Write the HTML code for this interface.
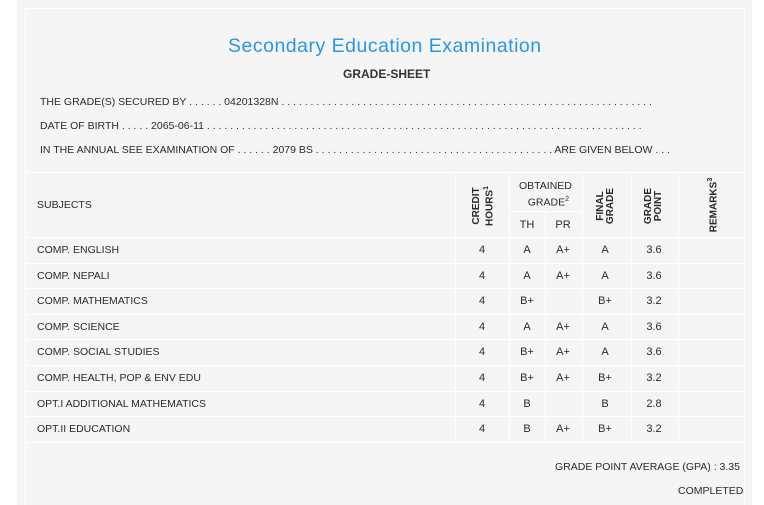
<!DOCTYPE html>
<html><head><meta charset="utf-8"><style>
*{margin:0;padding:0;box-sizing:border-box}
body{width:764px;height:505px;background:#fff;font-family:"Liberation Sans",sans-serif;color:#2a2a2a;position:relative;overflow:hidden}
#panel{position:absolute;left:17px;top:0;width:735px;height:505px;background:#f5f5f5}
#inner{position:absolute;left:25px;top:8px;width:720px;height:497px;border:1px solid #fff;border-bottom:none}
.t{position:absolute;white-space:nowrap;font-size:11px;transform-origin:0 0}
.c{position:absolute;text-align:center;font-size:11px;width:40px}
.hl{position:absolute;height:1px;background:#fff}
.vl{position:absolute;width:1px;background:#fff}
.rot{position:absolute;font-size:10px;font-weight:bold;line-height:10px;transform:rotate(-90deg);transform-origin:center;text-align:center;white-space:nowrap}
</style></head><body>
<div id="panel"></div><div id="inner"></div>
<div class="t" style="left:228px;top:35px;font-size:19.5px;color:#2a96e6;letter-spacing:0.5px">Secondary Education Examination</div>
<div class="t" style="left:343px;top:67px;font-size:12px;font-weight:bold;color:#333">GRADE-SHEET</div>
<div class="t" style="left:40px;top:96px;font-size:10.5px">THE GRADE(S) SECURED BY . . . . . . 04201328N . . . . . . . . . . . . . . . . . . . . . . . . . . . . . . . . . . . . . . . . . . . . . . . . . . . . . . . . . . . . . . . .</div>
<div class="t" style="left:40px;top:120px;font-size:10.5px">DATE OF BIRTH . . . . . 2065-06-11 . . . . . . . . . . . . . . . . . . . . . . . . . . . . . . . . . . . . . . . . . . . . . . . . . . . . . . . . . . . . . . . . . . . . . . . . . . .</div>
<div class="t" style="left:40px;top:144px;font-size:10.5px">IN THE ANNUAL SEE EXAMINATION OF . . . . . . 2079 BS . . . . . . . . . . . . . . . . . . . . . . . . . . . . . . . . . . . . . . . . . ARE GIVEN BELOW . . .</div>

<div class="hl" style="left:25px;top:172px;width:720px"></div>
<div class="hl" style="left:509px;top:211px;width:73px"></div>
<div class="hl" style="left:25px;top:237px;width:720px"></div>
<div class="hl" style="left:25px;top:263px;width:720px"></div>
<div class="hl" style="left:25px;top:288px;width:720px"></div>
<div class="hl" style="left:25px;top:314px;width:720px"></div>
<div class="hl" style="left:25px;top:339px;width:720px"></div>
<div class="hl" style="left:25px;top:365px;width:720px"></div>
<div class="hl" style="left:25px;top:391px;width:720px"></div>
<div class="hl" style="left:25px;top:416px;width:720px"></div>
<div class="hl" style="left:25px;top:442px;width:720px"></div>
<div class="vl" style="left:455px;top:172px;height:270px"></div>
<div class="vl" style="left:509px;top:172px;height:270px"></div>
<div class="vl" style="left:545px;top:211px;height:231px"></div>
<div class="vl" style="left:582px;top:172px;height:270px"></div>
<div class="vl" style="left:631px;top:172px;height:270px"></div>
<div class="vl" style="left:678px;top:172px;height:270px"></div>

<div class="t" style="left:37px;top:199px;font-size:10.5px">SUBJECTS</div>
<div class="rot" style="left:452px;top:196px;width:60px;height:20px">CREDIT<br>HOURS<sup style="font-size:7px">1</sup></div>
<div class="t" style="left:519px;top:179px;font-size:10.5px;text-align:center;line-height:14px">OBTAINED<br>&nbsp;&nbsp;GRADE<sup style="font-size:7px">2</sup></div>
<div class="c" style="left:507px;top:219px">TH</div>
<div class="c" style="left:543px;top:219px">PR</div>
<div class="rot" style="left:576px;top:196px;width:60px;height:20px">FINAL<br>GRADE</div>
<div class="rot" style="left:624px;top:196px;width:60px;height:20px">GRADE<br>POINT</div>
<div class="rot" style="left:671px;top:200px;width:80px;height:10px">REMARKS<sup style="font-size:7px">3</sup></div>

<div id="rows"></div>
<div class="t" style="left:555px;top:461px;font-size:10.5px">GRADE POINT AVERAGE (GPA) : 3.35</div>
<div class="t" style="left:678px;top:485px;font-size:10.5px">COMPLETED</div>
<script>
var d=[["COMP. ENGLISH","A","A+","A","3.6"],["COMP. NEPALI","A","A+","A","3.6"],["COMP. MATHEMATICS","B+","","B+","3.2"],["COMP. SCIENCE","A","A+","A","3.6"],["COMP. SOCIAL STUDIES","B+","A+","A","3.6"],["COMP. HEALTH, POP &amp; ENV EDU","B+","A+","B+","3.2"],["OPT.I ADDITIONAL MATHEMATICS","B","","B","2.8"],["OPT.II EDUCATION","B","A+","B+","3.2"]];
var h="";d.forEach(function(r,i){var y=244+i*25.6;
h+='<div class="t" style="left:37px;top:'+y+'px;font-size:10.5px">'+r[0]+'</div>';
h+='<div class="c" style="left:462px;top:'+y+'px">4</div>';
h+='<div class="c" style="left:507px;top:'+y+'px">'+r[1]+'</div>';
h+='<div class="c" style="left:543px;top:'+y+'px">'+r[2]+'</div>';
h+='<div class="c" style="left:585px;top:'+y+'px">'+r[3]+'</div>';
h+='<div class="c" style="left:634px;top:'+y+'px">'+r[4]+'</div>';});
document.getElementById("rows").innerHTML=h;
</script>
</body></html>
